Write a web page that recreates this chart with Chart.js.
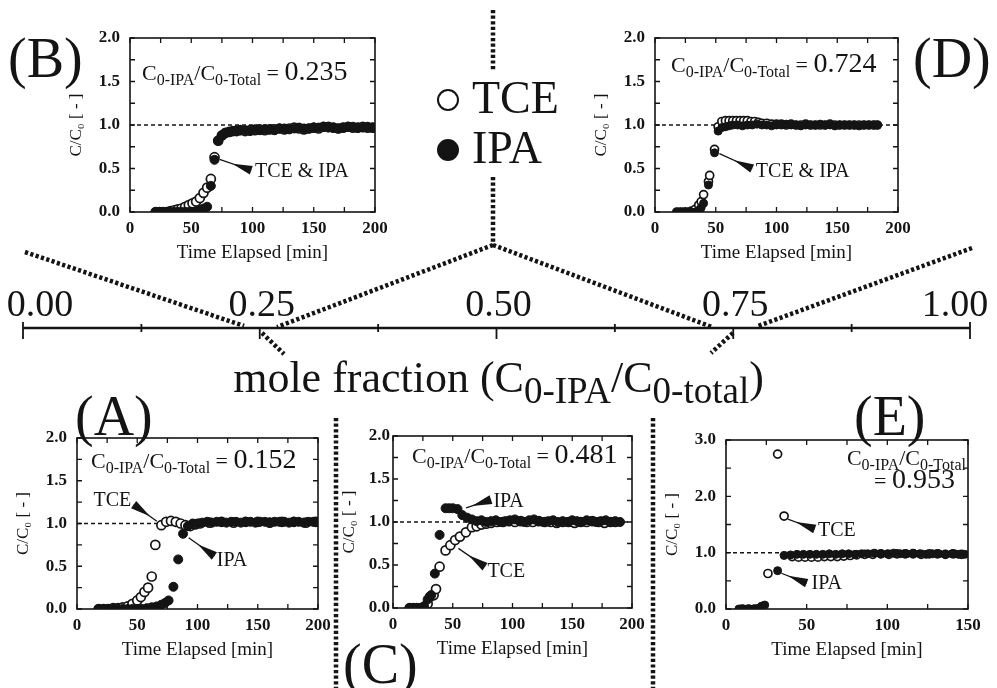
<!DOCTYPE html>
<html>
<head>
<meta charset="utf-8">
<script src="https://cdn.jsdelivr.net/npm/chart.js@4.4.0/dist/chart.umd.min.js"></script>
<style>
  body { margin: 0; background: #fff; }
  #wrap { position: relative; width: 997px; height: 688px; overflow: hidden; color: #141414;
          font-family: 'Liberation Serif', 'Times New Roman', serif; }
  canvas { position: absolute; }
  .panel { position: absolute; font-size: 56px; line-height: 1; }
  .leg { position: absolute; font-size: 46px; line-height: 1; }
  .mk { position: absolute; width: 18px; height: 18px; border: 2.5px solid #141414; border-radius: 50%; background: #fff; }
  .mk.fill { background: #141414; }
  #frac { position: absolute; left: 0; top: 356px; width: 997px; text-align: center; font-size: 44px; line-height: 1; }
  #frac sub { font-size: 37px; vertical-align: -0.3em; line-height: 0; }
</style>
</head>
<body>
<div id="wrap">
  <canvas id="fracAxis" width="997" height="688" style="left:0;top:0"></canvas>
  <canvas id="chartA"></canvas>
  <canvas id="chartB"></canvas>
  <canvas id="chartC"></canvas>
  <canvas id="chartD"></canvas>
  <canvas id="chartE"></canvas>

  <div class="panel" style="left:8px;top:30px">(B)</div>
  <div class="panel" style="left:913px;top:30px">(D)</div>
  <div class="panel" style="left:75px;top:388px">(A)</div>
  <div class="panel" style="left:854px;top:388px">(E)</div>
  <div class="panel" style="left:343px;top:636px">(C)</div>

  <div class="mk" style="left:437px;top:89px"></div>
  <div class="leg" style="left:472px;top:75px">TCE</div>
  <div class="mk fill" style="left:437px;top:139px"></div>
  <div class="leg" style="left:472px;top:125px">IPA</div>

  <div id="frac">mole fraction (C<sub>0-IPA</sub>/C<sub>0-total</sub>)</div>
</div>

<script>
const SERIF = "'Liberation Serif', 'Times New Roman', serif";
const INK = '#141414';

// mole fraction axis
const fracTicks = [0, 0.25, 0.5, 0.75, 1.0];

// (A) C0-IPA/C0-Total = 0.152
const timeA_TCE = [18, 22, 26, 30, 34, 38, 42, 46, 50, 53, 56, 59, 62, 65, 70, 74, 78, 82, 86, 90, 94, 98, 102, 110, 120, 130, 140, 150, 160, 170, 180, 190, 198];
const tceA = [0, 0, 0, 0.01, 0.01, 0.02, 0.03, 0.06, 0.1, 0.14, 0.2, 0.25, 0.38, 0.75, 0.98, 1.02, 1.03, 1.02, 1.0, 0.98, 0.97, 0.99, 1.0, 1.01, 1.02, 1.01, 1.02, 1.02, 1.01, 1.02, 1.02, 1.01, 1.02];
const timeA_IPA = [18, 22, 26, 30, 34, 38, 42, 46, 50, 54, 58, 62, 66, 70, 73, 76, 80, 84, 88, 92, 96, 100, 104, 108, 112, 116, 120, 124, 128, 132, 136, 140, 144, 148, 152, 156, 160, 164, 168, 172, 176, 180, 184, 188, 192, 196, 200];
const ipaA = [0, 0, 0, 0, 0, 0, 0, 0, 0, 0, 0.01, 0.02, 0.03, 0.05, 0.07, 0.1, 0.26, 0.58, 0.88, 0.97, 1.0, 1.0, 1.01, 1.02, 1.01, 1.02, 1.02, 1.01, 1.02, 1.02, 1.01, 1.02, 1.02, 1.01, 1.02, 1.02, 1.01, 1.02, 1.02, 1.02, 1.01, 1.02, 1.02, 1.01, 1.02, 1.02, 1.02];

// (B) 0.235
const timeB = [21, 24, 27, 30, 33, 36, 39, 42, 45, 48, 51, 54, 57, 60, 63, 66, 69, 72, 75, 78, 81, 84, 87, 90, 94, 98, 102, 106, 110, 114, 118, 122, 126, 130, 134, 138, 142, 146, 150, 154, 158, 162, 166, 170, 174, 178, 182, 186, 190, 194, 198];
const tceB = [0, 0, 0, 0, 0.01, 0.02, 0.03, 0.04, 0.06, 0.08, 0.1, 0.12, 0.16, 0.22, 0.28, 0.38, 0.63, 0.82, 0.88, 0.91, 0.92, 0.93, 0.93, 0.94, 0.93, 0.94, 0.94, 0.95, 0.94, 0.95, 0.95, 0.96, 0.95, 0.96, 0.97, 0.96, 0.95, 0.96, 0.97, 0.96, 0.98, 0.98, 0.97, 0.96, 0.97, 0.98, 0.97, 0.97, 0.98, 0.97, 0.97];
const ipaB = [0, 0, 0, 0, 0, 0, 0, 0, 0, 0, 0, 0, 0.02, 0.04, 0.06, 0.3, 0.6, 0.82, 0.88, 0.91, 0.92, 0.93, 0.94, 0.94, 0.94, 0.93, 0.95, 0.94, 0.95, 0.95, 0.94, 0.96, 0.96, 0.95, 0.96, 0.97, 0.96, 0.96, 0.97, 0.97, 0.98, 0.97, 0.97, 0.96, 0.97, 0.98, 0.98, 0.97, 0.97, 0.98, 0.97];

// (C) 0.481
const timeC_TCE = [14, 17, 20, 23, 26, 29, 31, 34, 36, 39, 44, 48, 52, 56, 61, 66, 70, 74, 78, 82, 87, 92, 97, 102, 107, 112, 117, 122, 127, 132, 137, 142, 147, 152, 157, 162, 167, 172, 177, 182, 186];
const tceC = [0, 0, 0, 0, 0, 0.05, 0.13, 0.15, 0.22, 0.48, 0.67, 0.73, 0.79, 0.83, 0.88, 0.94, 0.95, 0.97, 0.98, 0.99, 1.0, 1.0, 1.01, 1.0, 1.01, 1.0, 1.0, 1.01, 1.0, 1.0, 0.99, 1.0, 1.0, 0.99, 1.0, 1.0, 1.01, 1.0, 0.99, 1.0, 1.0];
const timeC_IPA = [14, 17, 20, 23, 26, 29, 32, 35, 39, 44, 47, 50, 54, 58, 62, 66, 70, 74, 78, 82, 86, 90, 94, 98, 102, 106, 110, 114, 118, 122, 126, 130, 134, 138, 142, 146, 150, 154, 158, 162, 166, 170, 174, 178, 182, 186, 190];
const ipaC = [0, 0, 0, 0, 0.02, 0.1, 0.15, 0.4, 0.85, 1.16, 1.16, 1.16, 1.15, 1.08, 1.05, 1.03, 1.01, 1.02, 1.0, 1.01, 1.02, 1.0, 1.01, 1.02, 1.03, 1.01, 1.0, 1.02, 1.03, 1.01, 1.0, 1.01, 1.02, 1.0, 1.01, 1.0, 1.02, 1.01, 1.0, 1.02, 1.01, 1.0, 1.01, 1.02, 1.0, 1.01, 1.0];

// (D) 0.724
const timeD_TCE = [18, 21, 24, 27, 30, 33, 36, 38, 40, 44, 45, 49, 52, 55, 58, 61, 64, 67, 70, 73, 76, 79, 82, 85, 88, 92, 96, 100, 104, 108, 112, 116, 120, 124, 128, 132, 136, 140, 144, 148, 152, 156, 160, 164, 168, 172, 176, 180, 183];
const tceD = [0, 0, 0, 0, 0.01, 0.03, 0.08, 0.12, 0.2, 0.35, 0.42, 0.72, 0.98, 1.04, 1.05, 1.05, 1.05, 1.05, 1.05, 1.05, 1.05, 1.04, 1.04, 1.03, 1.02, 1.02, 1.01, 1.01, 1.01, 1.0, 1.01, 1.0, 1.0, 1.01, 1.0, 1.0, 1.0, 1.0, 1.01, 1.0, 1.0, 1.0, 1.0, 1.0, 1.0, 1.0, 1.0, 1.0, 1.0];
const timeD_IPA = [18, 21, 24, 27, 30, 33, 36, 38, 40, 44, 49, 52, 55, 58, 61, 64, 68, 72, 76, 80, 84, 88, 92, 96, 100, 104, 108, 112, 116, 120, 124, 128, 132, 136, 140, 144, 148, 152, 156, 160, 164, 168, 172, 176, 180, 183];
const ipaD = [0, 0, 0, 0, 0, 0, 0.02, 0.05, 0.1, 0.31, 0.68, 0.93, 0.97, 0.98, 0.99, 1.0, 1.0, 0.99, 1.0, 1.0, 1.01, 1.0, 1.0, 0.99, 1.0, 1.0, 1.01, 1.0, 1.0, 0.99, 1.0, 1.0, 1.0, 1.01, 1.0, 1.0, 0.99, 1.0, 1.0, 1.0, 1.0, 0.99, 1.0, 1.0, 1.0, 1.0];

// (E) 0.953
const timeE_TCE = [10, 14, 18, 22, 26, 32, 36, 41, 45, 49, 53, 57, 61, 65, 69, 73, 77, 81, 86, 91, 96, 101, 106, 111, 116, 121, 126, 131, 136, 141, 146];
const tceE = [0, 0, 0, 0.02, 0.63, 2.75, 1.65, 0.93, 0.92, 0.92, 0.92, 0.92, 0.93, 0.93, 0.93, 0.94, 0.95, 0.96, 0.97, 0.97, 0.98, 0.97, 0.98, 0.98, 0.98, 0.97, 0.98, 0.98, 0.97, 0.98, 0.97];
const timeE_IPA = [8, 11, 14, 17, 20, 22, 24, 32, 36, 40, 44, 48, 52, 56, 60, 64, 68, 72, 76, 80, 84, 88, 92, 96, 100, 104, 108, 112, 116, 120, 124, 128, 132, 136, 140, 144, 148];
const ipaE = [0, 0, 0, 0, 0.01, 0.05, 0.07, 0.68, 0.95, 0.96, 0.97, 0.97, 0.97, 0.97, 0.97, 0.98, 0.97, 0.98, 0.98, 0.97, 0.98, 0.98, 0.99, 0.98, 0.98, 0.99, 0.98, 0.98, 0.99, 0.98, 0.97, 0.98, 0.98, 0.97, 0.98, 0.97, 0.97];

// arrow callouts: point (px,py) -> arrow end (ex,ey), label at (tx,ty), all in data units
const notesA = [
  { px: 69, py: 1.0, ex: 47, ey: 1.22, text: 'TCE', tx: 45, ty: 1.27, align: 'right' },
  { px: 90, py: 0.86, ex: 114, ey: 0.62, text: 'IPA', tx: 116, ty: 0.57 }
];
const notesB = [{ px: 70, py: 0.62, ex: 99, ey: 0.48, text: 'TCE & IPA', tx: 102, ty: 0.46 }];
const notesC = [
  { px: 58, py: 1.15, ex: 82, ey: 1.26, text: 'IPA', tx: 84, ty: 1.24 },
  { px: 52, py: 0.72, ex: 77, ey: 0.48, text: 'TCE', tx: 79, ty: 0.42 }
];
const notesD = [{ px: 50, py: 0.69, ex: 80, ey: 0.5, text: 'TCE & IPA', tx: 83, ty: 0.46 }];
const notesE = [
  { px: 36, py: 1.62, ex: 55, ey: 1.42, text: 'TCE', tx: 57, ty: 1.39 },
  { px: 32, py: 0.66, ex: 50, ey: 0.46, text: 'IPA', tx: 53, ty: 0.44 }
];

// dotted connectors (decoration, page pixels)
const guideLines = [
  [493, 10, 493, 70], [493, 177, 493, 245],
  [25, 252, 244, 326], [493, 245, 277, 327],
  [493, 245, 712, 327], [972, 248, 758, 326],
  [262, 333, 284, 354], [733, 333, 711, 353],
  [336, 418, 336, 688], [653, 418, 653, 688]
];

const pts = (t, v) => t.map((x, i) => ({ x, y: v[i] }));

function richText(ctx, parts, x, y, align) {
  let w = 0;
  parts.forEach(p => { ctx.font = p[1] + 'px ' + SERIF; w += ctx.measureText(p[0]).width; });
  let cx = align === 'right' ? x - w : x;
  ctx.textAlign = 'left';
  ctx.textBaseline = 'alphabetic';
  parts.forEach(p => {
    ctx.font = p[1] + 'px ' + SERIF;
    ctx.fillText(p[0], cx, y + (p[2] || 0));
    cx += ctx.measureText(p[0]).width;
  });
}

const ratioHead = [['C', 22], ['0-IPA', 16, 5], ['/C', 22], ['0-Total', 16, 5]];

// box with inward ticks, callouts and the ratio label
const framePlugin = {
  id: 'frame',
  afterDatasetsDraw(chart) {
    const p = chart.options.plugins.frame;
    const { ctx, chartArea: a, scales: { x, y } } = chart;
    ctx.save();
    ctx.strokeStyle = INK;
    ctx.fillStyle = INK;
    ctx.lineWidth = 1.6;
    ctx.strokeRect(a.left, a.top, a.right - a.left, a.bottom - a.top);

    ctx.lineWidth = 1.3;
    ctx.beginPath();
    for (let v = 0; v <= p.xMax + 1e-9; v += p.xMinor) {
      const px = x.getPixelForValue(v);
      ctx.moveTo(px, a.bottom); ctx.lineTo(px, a.bottom - 5);
      ctx.moveTo(px, a.top); ctx.lineTo(px, a.top + 5);
    }
    for (let v = 0; v <= p.yMax + 1e-9; v += p.yMinor) {
      const py = y.getPixelForValue(v);
      ctx.moveTo(a.left, py); ctx.lineTo(a.left + 5, py);
      ctx.moveTo(a.right, py); ctx.lineTo(a.right - 5, py);
    }
    ctx.stroke();

    // callouts
    p.notes.forEach(n => {
      const x1 = x.getPixelForValue(n.px), y1 = y.getPixelForValue(n.py);
      const x2 = x.getPixelForValue(n.ex), y2 = y.getPixelForValue(n.ey);
      const ang = Math.atan2(y1 - y2, x1 - x2);
      const c = Math.cos(ang), s = Math.sin(ang);
      ctx.lineWidth = 1.3;
      ctx.beginPath();
      ctx.moveTo(x1 - c * 4, y1 - s * 4);
      ctx.lineTo(x2, y2);
      ctx.stroke();
      ctx.beginPath();
      ctx.moveTo(x2 + c * 20, y2 + s * 20);
      ctx.lineTo(x2 - s * 4.5, y2 + c * 4.5);
      ctx.lineTo(x2 + s * 4.5, y2 - c * 4.5);
      ctx.closePath();
      ctx.fill();
      ctx.font = '20px ' + SERIF;
      ctx.textAlign = n.align || 'left';
      ctx.textBaseline = 'middle';
      ctx.fillText(n.text, x.getPixelForValue(n.tx), y.getPixelForValue(n.ty));
    });

    // ratio label
    const r = p.ratio;
    if (r.twoLines) {
      richText(ctx, ratioHead, a.right - 2, a.top + 25, 'right');
      richText(ctx, [['= ', 22], [r.value, 28]], a.right - 13, a.top + 48, 'right');
    } else {
      richText(ctx, ratioHead.concat([[' = ', 22], [r.value, 28]]), a.left + r.dx, a.top + r.dy, 'left');
    }
    ctx.restore();
  }
};

const panels = [
  { id: 'chartA', box: [77, 438, 318, 609], xMax: 200, yMax: 2, yStep: 0.5, r: 4.5, yw: 68, yPad: 10,
    tce: pts(timeA_TCE, tceA), ipa: pts(timeA_IPA, ipaA), notes: notesA, ratio: { value: '0.152', dx: 14, dy: 30 } },
  { id: 'chartB', box: [130, 38, 375, 212], xMax: 200, yMax: 2, yStep: 0.5, r: 4.5, yw: 68, yPad: 10,
    tce: pts(timeB, tceB), ipa: pts(timeB, ipaB), notes: notesB, ratio: { value: '0.235', dx: 12, dy: 42 } },
  { id: 'chartC', box: [393, 436, 632, 608], xMax: 200, yMax: 2, yStep: 0.5, r: 4.5, yw: 58, yPad: 3,
    tce: pts(timeC_TCE, tceC), ipa: pts(timeC_IPA, ipaC), notes: notesC, ratio: { value: '0.481', dx: 19, dy: 27 } },
  { id: 'chartD', box: [655, 38, 898, 212], xMax: 200, yMax: 2, yStep: 0.5, r: 4, yw: 68, yPad: 10,
    tce: pts(timeD_TCE, tceD), ipa: pts(timeD_IPA, ipaD), notes: notesD, ratio: { value: '0.724', dx: 16, dy: 34 } },
  { id: 'chartE', box: [726, 440, 968, 609], xMax: 150, yMax: 3, yStep: 1, r: 4, yw: 68, yPad: 10,
    tce: pts(timeE_TCE, tceE), ipa: pts(timeE_IPA, ipaE), notes: notesE, ratio: { value: '0.953', twoLines: true } }
];

const tickFont = { family: SERIF, size: 17, weight: 'bold' };

panels.forEach(p => {
  const [l, t, r, b] = p.box;
  const cv = document.getElementById(p.id);
  cv.width = r - l + p.yw + 24;
  cv.height = b - t + 12 + 56;
  cv.style.left = (l - p.yw) + 'px';
  cv.style.top = (t - 12) + 'px';

  new Chart(cv, {
    type: 'scatter',
    data: {
      datasets: [
        { label: 'IPA', data: p.ipa, pointRadius: p.r, pointBackgroundColor: INK, pointBorderColor: INK, pointBorderWidth: 1 },
        { label: 'TCE', data: p.tce, pointRadius: p.r, pointBackgroundColor: '#fff', pointBorderColor: INK, pointBorderWidth: 1.7 },
        { label: 'C/C0 = 1', data: [{ x: 0, y: 1 }, { x: p.xMax, y: 1 }], showLine: true, pointRadius: 0,
          borderColor: INK, borderWidth: 1.5, borderDash: [4, 3] }
      ]
    },
    options: {
      animation: false,
      responsive: false,
      devicePixelRatio: 1,
      events: [],
      layout: { padding: { left: 0, top: 12, right: 24, bottom: 0 } },
      plugins: {
        legend: { display: false },
        tooltip: { enabled: false },
        frame: { xMax: p.xMax, xMinor: 25, yMax: p.yMax, yMinor: p.yStep / 2, notes: p.notes, ratio: p.ratio }
      },
      scales: {
        x: {
          type: 'linear', min: 0, max: p.xMax,
          ticks: { stepSize: 50, font: tickFont, color: INK, padding: 6, maxRotation: 0 },
          grid: { display: false, drawTicks: false },
          border: { display: false },
          title: { display: true, text: 'Time Elapsed [min]', color: INK, font: { family: SERIF, size: 19 }, padding: { top: 0, bottom: 4 } },
          afterFit(s) { s.height = 56; s.paddingLeft = 0; s.paddingRight = 0; }
        },
        y: {
          type: 'linear', min: 0, max: p.yMax,
          ticks: { stepSize: p.yStep, font: tickFont, color: INK, padding: p.yPad, callback: v => v.toFixed(1) },
          grid: { display: false, drawTicks: false },
          border: { display: false },
          title: { display: true, text: 'C/C\u2080 [ - ]', color: INK, font: { family: SERIF, size: 17 }, padding: { top: 4, bottom: 0 } },
          afterFit(s) { s.width = p.yw; s.paddingTop = 0; s.paddingBottom = 0; }
        }
      }
    },
    plugins: [framePlugin]
  });
});

// number line of the mole fraction, plus dotted connectors
const fracPlugin = {
  id: 'frac',
  afterDraw(chart) {
    const { ctx, chartArea: a, scales: { x } } = chart;
    const y0 = a.top;
    ctx.save();
    ctx.strokeStyle = INK;
    ctx.fillStyle = INK;

    ctx.lineWidth = 4.5;
    ctx.setLineDash([3.2, 2.4]);
    guideLines.forEach(([x1, y1, x2, y2]) => {
      ctx.beginPath(); ctx.moveTo(x1, y1); ctx.lineTo(x2, y2); ctx.stroke();
    });
    ctx.setLineDash([]);

    ctx.lineWidth = 2.5;
    ctx.beginPath();
    ctx.moveTo(x.getPixelForValue(0), y0);
    ctx.lineTo(x.getPixelForValue(1), y0);
    ctx.stroke();

    ctx.lineWidth = 1.8;
    ctx.beginPath();
    x.ticks.forEach(tk => {
      const px = x.getPixelForValue(tk.value);
      const major = fracTicks.some(f => Math.abs(f - tk.value) < 1e-6);
      const isEnd = tk.value < 1e-6 || tk.value > 1 - 1e-6;
      if (major) {
        ctx.moveTo(px, isEnd ? y0 - 6 : y0 - 1);
        ctx.lineTo(px, y0 + 11);
      } else {
        ctx.moveTo(px, y0 - 4);
        ctx.lineTo(px, y0 + 4);
      }
    });
    ctx.stroke();

    ctx.font = '38px ' + SERIF;
    ctx.textAlign = 'center';
    ctx.textBaseline = 'alphabetic';
    fracTicks.forEach((v, i) => {
      const nudge = i === 0 ? 17 : (i === fracTicks.length - 1 ? -15 : 2);
      ctx.fillText(v.toFixed(2), x.getPixelForValue(v) + nudge, 316);
    });
    ctx.restore();
  }
};

new Chart(document.getElementById('fracAxis'), {
  type: 'scatter',
  data: { datasets: [{ label: 'mole fraction', data: [] }] },
  options: {
    animation: false,
    responsive: false,
    devicePixelRatio: 1,
    events: [],
    layout: { padding: { left: 23, right: 27, top: 328, bottom: 350 } },
    plugins: { legend: { display: false }, tooltip: { enabled: false } },
    scales: {
      x: {
        type: 'linear', min: 0, max: 1,
        ticks: { stepSize: 0.125, display: false },
        grid: { display: false, drawTicks: false },
        border: { display: false },
        afterFit(s) { s.height = 0; s.paddingLeft = 0; s.paddingRight = 0; }
      },
      y: { display: false }
    }
  },
  plugins: [fracPlugin]
});
</script>
</body>
</html>
